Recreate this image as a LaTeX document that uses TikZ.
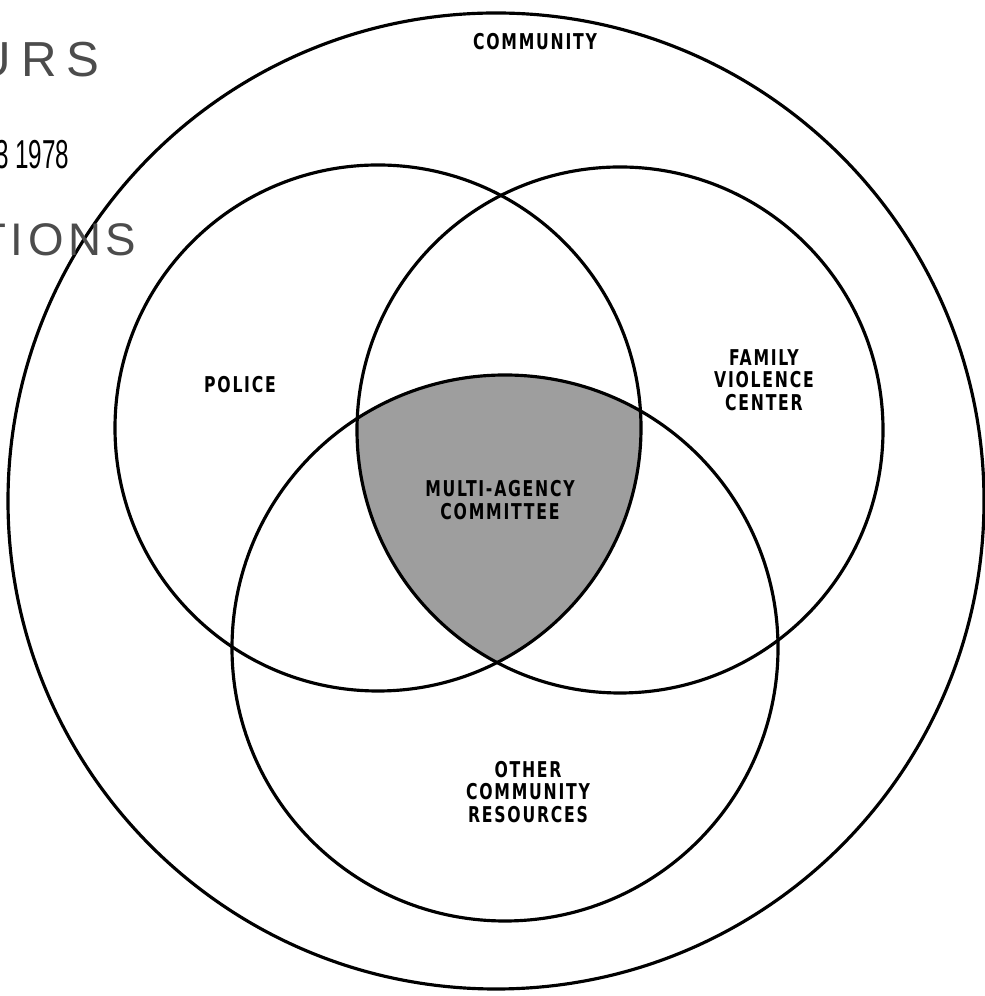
\documentclass[tikz,border=0pt]{standalone}
\usepackage{fontspec}
\setmainfont{Liberation Sans}
\newfontfamily\lblfont[FakeStretch=0.8,LetterSpace=8]{DejaVu Sans Condensed Bold}
\newfontfamily\stampfont[LetterSpace=20]{Liberation Sans}
\newfontfamily\acqfont[LetterSpace=10]{Liberation Sans}
\newfontfamily\datefont[FakeStretch=0.6]{Liberation Sans}
\usetikzlibrary{positioning}

\begin{document}
\begin{tikzpicture}[
    ring/.style={draw, line width=0.9pt},
    lbl/.style={font=\lblfont\fontsize{6.2}{6.4}\selectfont, align=center, inner sep=0pt},
    stamp/.style={anchor=east, inner sep=0pt, text=black!70}
  ]
    \useasboundingbox (0,0) rectangle (9.85,9.96);

    \coordinate (com) at (4.96,4.95);
    \coordinate (pol) at (3.78,5.68);
    \coordinate (fam) at (6.20,5.66);
    \coordinate (oth) at (5.05,3.48);

    % shared part of the three agencies
    \begin{scope}
      \clip (pol) circle (2.63);
      \clip (fam) circle (2.63);
      \fill[black!38] (oth) circle (2.73);
    \end{scope}

    \draw[ring] (com) circle (4.88);
    \draw[ring] (pol) circle (2.63);
    \draw[ring] (fam) circle (2.63);
    \draw[ring] (oth) circle (2.73);

    \node[lbl] (community) at (5.35,9.54) {COMMUNITY};
    \node[lbl] (police) at (2.40,6.11) {POLICE};
    \node[lbl] (fvc) at (7.64,6.16) {FAMILY\\VIOLENCE\\CENTER};
    \node[lbl] (mac) at (5.00,4.96) {MULTI-AGENCY\\COMMITTEE};
    \node[lbl] (ocr) at (5.28,2.04) {OTHER\\COMMUNITY\\RESOURCES};

    \node[stamp, font=\stampfont\fontsize{14}{15}\selectfont] (ncjrs) at (1.00,9.36) {URS};
    \node[stamp, text=black, font=\datefont\fontsize{11.5}{12}\selectfont] (date) at (0.70,8.41) {3 1978};
    \node[stamp, font=\acqfont\fontsize{13}{14}\selectfont] (acq) at (1.37,7.56) {TIONS};
  \end{tikzpicture}
\end{document}
